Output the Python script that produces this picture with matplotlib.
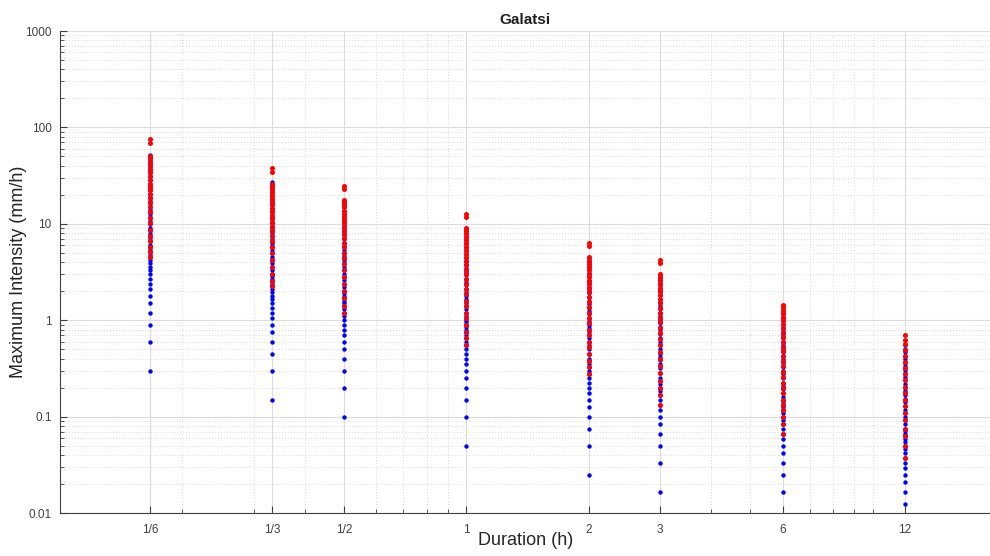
import matplotlib.pyplot as plt
from matplotlib.ticker import FixedLocator, NullFormatter, LogLocator

plt.rcParams['font.family'] = ['Liberation Sans', 'DejaVu Sans']

# Durations (h) and their tick labels
durations = [1/6, 1/3, 1/2, 1, 2, 3, 6, 12]
duration_labels = ['1/6', '1/3', '1/2', '1', '2', '3', '6', '12']

# Maximum intensities (mm/h), all events
blue_16 = [0.3, 0.6, 0.9, 1.2, 1.5, 1.8, 2.1, 2.4, 2.7, 3.0, 3.3, 3.6, 3.9, 4.2, 4.5, 4.8, 5.1,
           5.4, 5.7, 6.0, 6.6, 7.2, 7.8, 8.4, 9.0, 9.9, 10.8, 11.7, 12.6, 13.8, 15.0, 16.2,
           17.4, 18.9, 20.4, 22.2, 24.0, 26.1, 28.2, 30.6, 33.3, 36.0, 39.0, 42.6, 46.2,
           49.8, 52.2]
blue_13 = [0.15, 0.3, 0.45, 0.6, 0.75, 0.9, 1.05, 1.2, 1.35, 1.5, 1.65, 1.8, 1.95, 2.1, 2.25,
           2.4, 2.55, 2.7, 2.85, 3.0, 3.3, 3.6, 3.9, 4.2, 4.5, 4.95, 5.4, 5.85, 6.3, 6.9, 7.5,
           8.1, 8.85, 9.6, 10.5, 11.4, 12.45, 13.5, 14.7, 16.2, 17.7, 19.5, 21.3, 23.4, 25.5,
           27.3]
blue_12 = [0.1, 0.2, 0.3, 0.4, 0.5, 0.6, 0.7, 0.8, 0.9, 1.0, 1.1, 1.2, 1.3, 1.4, 1.5, 1.6, 1.7,
           1.8, 1.9, 2.0, 2.2, 2.4, 2.6, 2.8, 3.0, 3.3, 3.6, 3.9, 4.2, 4.6, 5.0, 5.4, 5.9, 6.4,
           7.0, 7.6, 8.2, 8.9, 9.7, 10.6, 11.5, 12.5, 13.6, 14.8, 16.2, 17.4]
blue_1 = [0.05, 0.1, 0.15, 0.2, 0.25, 0.3, 0.35, 0.4, 0.45, 0.5, 0.55, 0.6, 0.65, 0.7, 0.75,
          0.8, 0.85, 0.9, 0.95, 1.0, 1.1, 1.2, 1.3, 1.4, 1.5, 1.65, 1.8, 1.95, 2.1, 2.3, 2.5,
          2.7, 2.95, 3.2, 3.5, 3.8, 4.1, 4.45, 4.85, 5.25, 5.7, 6.2, 6.75, 7.35, 8.0, 8.65]
blue_2 = [0.025, 0.05, 0.075, 0.1, 0.125, 0.15, 0.175, 0.2, 0.225, 0.25, 0.275, 0.3, 0.325,
          0.35, 0.375, 0.4, 0.45, 0.5, 0.55, 0.6, 0.65, 0.7, 0.75, 0.825, 0.9, 0.975, 1.05,
          1.15, 1.25, 1.35, 1.475, 1.6, 1.75, 1.9, 2.05, 2.225, 2.425, 2.625, 2.85, 3.1,
          3.375, 3.65, 3.975, 4.3]
blue_3 = [0.0167, 0.0333, 0.05, 0.0667, 0.0833, 0.1, 0.117, 0.133, 0.15, 0.167, 0.183, 0.2,
          0.217, 0.233, 0.25, 0.283, 0.317, 0.35, 0.383, 0.417, 0.45, 0.5, 0.55, 0.6, 0.65,
          0.717, 0.783, 0.85, 0.933, 1.017, 1.1, 1.2, 1.3, 1.417, 1.533, 1.667, 1.817, 1.967,
          2.133, 2.317, 2.517, 2.733, 2.95]
blue_6 = [0.0167, 0.025, 0.0333, 0.0417, 0.05, 0.0583, 0.0667, 0.075, 0.0833, 0.0917, 0.1,
          0.108, 0.117, 0.125, 0.133, 0.142, 0.158, 0.175, 0.192, 0.208, 0.225, 0.25, 0.275,
          0.3, 0.325, 0.358, 0.392, 0.425, 0.467, 0.508, 0.55, 0.6, 0.65, 0.708, 0.767,
          0.833, 0.9, 0.975, 1.058, 1.15]
blue_12h = [0.0125, 0.0167, 0.0208, 0.025, 0.0292, 0.0333, 0.0375, 0.0417, 0.0458, 0.05,
            0.0542, 0.0583, 0.0625, 0.0667, 0.0708, 0.075, 0.0833, 0.0917, 0.1, 0.108, 0.117,
            0.129, 0.142, 0.154, 0.167, 0.183, 0.2, 0.217, 0.237, 0.258, 0.283, 0.308, 0.333,
            0.363, 0.396, 0.429, 0.467, 0.508, 0.554]

# Maximum intensities (mm/h), maxima series
red_16 = [4.5, 5.1, 5.7, 6.6, 7.5, 8.7, 10.2, 11.4, 13.2, 15.0, 16.8, 18.6, 20.4, 22.2, 24.0,
          26.1, 28.5, 31.2, 34.2, 37.2, 40.5, 44.1, 48.0, 50.7, 69.0, 75.6]
red_13 = [2.25, 2.55, 3.0, 3.6, 4.2, 4.95, 5.7, 6.6, 7.5, 8.4, 9.3, 10.2, 11.1, 12.0, 13.2,
          14.4, 15.6, 16.8, 18.0, 19.5, 21.0, 22.5, 24.0, 25.8, 34.5, 37.8]
red_12 = [1.2, 1.4, 1.7, 2.0, 2.4, 2.8, 3.3, 3.8, 4.4, 5.0, 5.7, 6.4, 7.1, 7.8, 8.5, 9.3, 10.1,
          10.9, 11.8, 12.7, 13.7, 14.8, 15.9, 17.0, 17.6, 22.8, 24.8]
red_1 = [0.55, 0.65, 0.75, 0.9, 1.05, 1.2, 1.4, 1.6, 1.85, 2.1, 2.4, 2.7, 3.0, 3.35, 3.7, 4.1,
         4.5, 4.9, 5.35, 5.8, 6.3, 6.8, 7.3, 7.9, 8.5, 9.0, 11.9, 12.6]
red_2 = [0.275, 0.325, 0.375, 0.45, 0.525, 0.6, 0.7, 0.8, 0.925, 1.05, 1.2, 1.375, 1.55, 1.75,
         1.95, 2.15, 2.35, 2.575, 2.8, 3.05, 3.3, 3.575, 3.85, 4.15, 4.5, 5.9, 6.3]
red_3 = [0.133, 0.167, 0.2, 0.233, 0.283, 0.333, 0.4, 0.467, 0.55, 0.633, 0.733, 0.833, 0.95,
         1.067, 1.2, 1.35, 1.5, 1.667, 1.833, 2.0, 2.183, 2.383, 2.583, 2.8, 3.05, 3.9, 4.2]
red_6 = [0.0667, 0.0833, 0.1, 0.117, 0.133, 0.15, 0.175, 0.2, 0.225, 0.258, 0.292, 0.333,
         0.375, 0.425, 0.475, 0.533, 0.6, 0.667, 0.742, 0.825, 0.908, 1.0, 1.092, 1.183,
         1.283, 1.367, 1.45]
red_12h = [0.0375, 0.05, 0.0625, 0.075, 0.0917, 0.108, 0.129, 0.15, 0.175, 0.204, 0.237,
           0.275, 0.317, 0.367, 0.425, 0.492, 0.567, 0.625, 0.7]

blue_sets = [blue_16, blue_13, blue_12, blue_1, blue_2, blue_3, blue_6, blue_12h]
red_sets = [red_16, red_13, red_12, red_1, red_2, red_3, red_6, red_12h]

fig = plt.figure(figsize=(9.9, 5.56), dpi=100)
ax = fig.add_axes([0.0606, 0.0773, 0.94, 0.8669])

# all events first, maxima on top
for d, vals in zip(durations, blue_sets):
    ax.scatter([d] * len(vals), vals, s=10, color='#0000ff', linewidths=0, zorder=3)
for d, vals in zip(durations, red_sets):
    ax.scatter([d] * len(vals), vals, s=13, color='#ff0000', linewidths=0, zorder=4)

ax.set_xscale('log')
ax.set_yscale('log')
ax.set_xlim(0.1, 19.5)
ax.set_ylim(0.01, 1000)

ax.xaxis.set_major_locator(FixedLocator(durations))
ax.set_xticklabels(duration_labels)
ax.xaxis.set_minor_locator(FixedLocator([0.2, 0.3, 0.4, 0.6, 0.7, 0.8, 0.9, 4, 5, 7, 8, 9, 10]))
ax.xaxis.set_minor_formatter(NullFormatter())

ax.yaxis.set_major_locator(FixedLocator([0.01, 0.1, 1, 10, 100, 1000]))
ax.set_yticklabels(['0.01', '0.1', '1', '10', '100', '1000'])
ax.yaxis.set_minor_locator(LogLocator(base=10, subs=range(2, 10)))
ax.yaxis.set_minor_formatter(NullFormatter())

# MATLAB-like grid and inward ticks
ax.grid(True, which='major', color='#dcdcdc', linewidth=0.8)
ax.grid(True, which='minor', color='#dadada', linestyle=(0, (1, 2)), linewidth=0.7)
ax.set_axisbelow(True)
ax.tick_params(which='both', direction='in', colors='#404040', labelsize=8.5)
ax.tick_params(which='major', length=5, width=0.8)
ax.tick_params(which='minor', length=3, width=0.6)
ax.tick_params(axis='y', pad=6)
ax.tick_params(axis='x', pad=8)

for side in ['top', 'right']:
    ax.spines[side].set_visible(False)
for side in ['left', 'bottom']:
    ax.spines[side].set_color('#404040')
    ax.spines[side].set_linewidth(0.8)

ax.set_title('Galatsi', fontsize=11, fontweight='bold', color='#202020', pad=5)
ax.set_xlabel('Duration (h)', fontsize=13, color='#262626')
ax.set_ylabel('Maximum Intensity (mm/h)', fontsize=13, color='#262626')
ax.xaxis.set_label_coords(0.5, -0.04)
ax.yaxis.set_label_coords(-0.035, 0.5)

plt.savefig('out.png', dpi=100)
plt.close()
